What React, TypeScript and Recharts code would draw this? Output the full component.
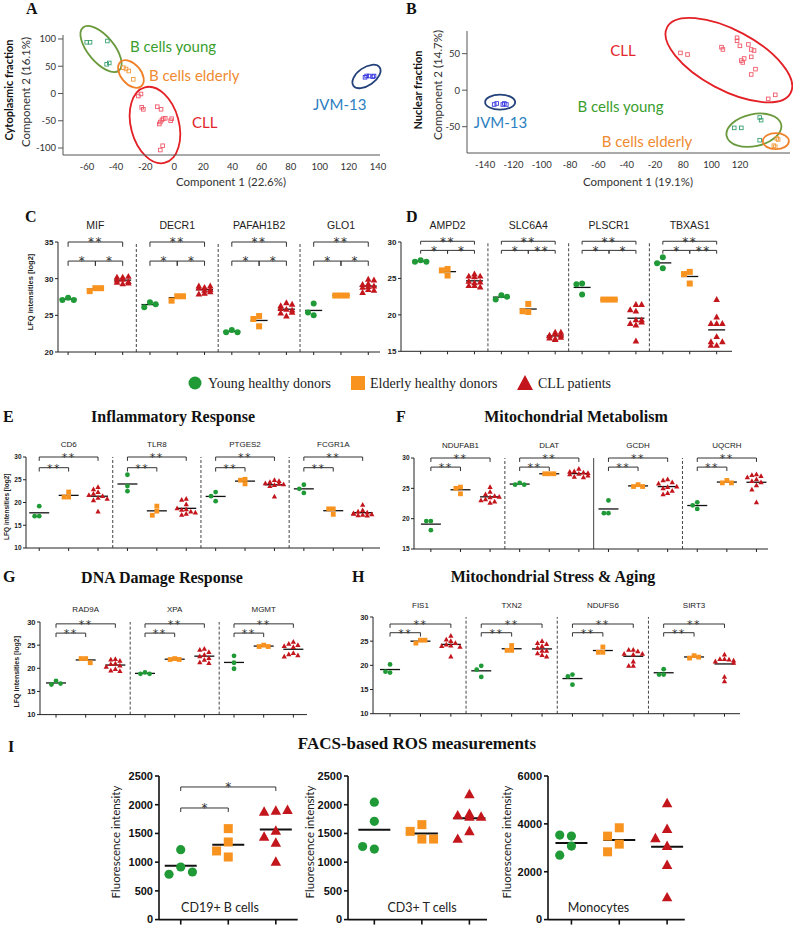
import React from 'react';
import { ScatterChart, Scatter, XAxis, YAxis, ReferenceLine, ReferenceArea, ReferenceDot } from 'recharts';

const ARIAL = '"Liberation Sans", Arial, sans-serif';
const SERIF = '"Liberation Serif", "Times New Roman", serif';
const CALI = 'Lato, "Open Sans", sans-serif';
const STAR = '"DejaVu Sans", sans-serif';

const GREEN = '#1f9a37';
const ORANGE = '#f7931e';
const RED = '#c3161c';

type Pt = [number, number];
type Br = [number, number, number, string];

// ---- A: cytoplasmic fraction PCA (component 1, component 2)
const aYoung: Pt[] = [[-60.2, 93.9], [-57.9, 93.9], [-46, 96.3], [-46.5, 53.6], [-44.7, 56]];
const aElderly: Pt[] = [[-35, 47.4], [-33.2, 45], [-31.3, 41.3], [-28.2, 26]];
const aCll: Pt[] = [
  [-24.7, -4.6], [-22.9, -0.9], [-22.4, -25.3], [-21.3, -29], [-11.7, -24.2], [-9.1, -29], [-10.3, -56],
  [-9.6, -52.3], [-8.5, -48.6], [-7.6, -46.2], [-6.2, -45.5], [-1.8, -46.2], [-2.5, -49.9], [-8, -95.8], [-9.6, -103.7],
];
const aJvm: Pt[] = [[131.1, 29.7], [132.2, 32.1], [134, 32.1], [136.4, 30.8], [137.3, 32.1]];
// ellipse bounds [x1, x2, y1, y2] before rotation
const aYoungEll = [-69.6, -31.1, 57.8, 105.5];
const aElderlyEll = [-40.8, -18.8, 17.4, 54.1];
const aCllEll = [-29.8, 3.2, -129.4, 13.8];
const aJvmEll = [121.1, 143.1, 14.7, 47.7];

// ---- B: nuclear fraction PCA (broken x axis)
const bTickLabels = ['-140', '-120', '-100', '-80', '-60', '-40', '-20', '80', '100', '120'];
const bYoung: Pt[] = [[116, -51.6], [121, -51.6], [134, -37.4], [135, -41], [134, -68.5]];
const bElderly: Pt[] = [[146, -66], [147, -67.5], [144, -76], [145, -77.5]];
const bCll: Pt[] = [
  [78, 51], [83, 48.8], [107, 58.9], [108, 55.7], [118, 71.7], [118, 67.6], [120, 60.7], [122, 37.9], [121, 40.5],
  [123, 43.4], [126, 62.6], [128, 55.7], [130, 54.3], [128, 45.6], [131, 28.8], [128, 21.5], [140, -11.9], [145, -6.4],
];
const bJvm: Pt[] = [[-133.6, -19.6], [-131.8, -18.2], [-127.5, -19.6], [-126.4, -18.2], [-125, -19.6]];
// ellipse bounds in axis positions
const bYoungEll = [8.51, 10.48, -76.7, -32.9];
const bElderlyEll = [9.81, 10.73, -80.8, -58.9];
const bCllEll = [6.14, 11.08, 0, 82.2];
const bJvmEll = [0, 1.06, -26.7, -6.2];

// ---- C
const cGenes = ['MIF', 'DECR1', 'PAFAH1B2', 'GLO1'];
const cYoung = [[27.4, 27.1, 27.1], [26.8, 26.1, 26.5], [23.0, 22.7, 22.7], [26.6, 25.0, 25.4]];
const cElderly = [[28.7, 28.3, 28.7], [27.6, 27.0, 27.6], [24.9, 24.5, 23.5], [27.7, 27.7, 27.7]];
const cCll = [
  [30.2, 29.8, 30.3, 29.6, 29.3, 29.5, 29.9, 30.2, 29.4],
  [28.8, 28.0, 29.0, 28.5, 27.9, 28.7, 28.2, 28.4, 29.0],
  [26.7, 25.8, 26.3, 25.3, 24.9, 25.7, 26.5, 25.4, 25.9],
  [29.9, 29.2, 29.8, 28.5, 28.1, 29.0, 28.8, 29.3, 28.4, 28.9],
];
const cBr: Br[] = [[0, 2, 35, '**'], [0, 1, 32.4, '*'], [1, 2, 32.4, '*']];

// ---- D
const dGenes = ['AMPD2', 'SLC6A4', 'PLSCR1', 'TBXAS1'];
const dYoung = [[27.5, 27.3, 27.3], [22.7, 22.1, 22.5], [24.3, 22.8, 24.2], [27.9, 26.4, 27.1]];
const dElderly = [[26.3, 25.4, 26.1], [21.5, 20.4, 20.5], [22.1, 22.1, 22.1], [25.9, 24.3, 25.6]];
const dCll = [
  [25.2, 24.4, 24.0, 25.3, 24.5, 23.8, 25.3, 24.6, 24.0, 25.6],
  [17.6, 17.2, 16.9, 16.6, 17.2, 16.8, 17.4, 16.7, 17.1, 17.6],
  [21.4, 20.7, 21.4, 20.5, 19.3, 18.8, 19.3, 18.6, 19.0, 16.4],
  [22.1, 19.7, 18.8, 18.8, 18.8, 17.0, 16.3, 16.3, 15.8, 15.8],
];
const dBrA: Br[] = [[0, 2, 30.1, '**'], [0, 1, 28.85, '*'], [1, 2, 28.85, '*']];
const dBrB: Br[] = [[0, 2, 30.1, '**'], [0, 1, 28.85, '*'], [1, 2, 28.85, '**']];

// ---- E
const eGenes = ['CD6', 'TLR8', 'PTGES2', 'FCGR1A'];
const eYoung = [[19.2, 17.0, 17.0], [26.1, 23.6, 22.5], [22.3, 21.4, 20.3], [23.9, 23.0, 22.1]];
const eElderly = [[22.3, 21.2, 21.2], [19.2, 18.1, 17.2], [25.1, 24.9, 24.1], [18.6, 18.6, 17.4]];
const eCll = [
  [23.4, 22.9, 22.3, 21.9, 21.4, 21.0, 20.5, 21.6, 20.8, 18.0],
  [20.8, 20.6, 19.6, 18.5, 18.4, 18.0, 17.5, 17.3, 18.7, 17.8],
  [24.9, 24.5, 24.7, 24.2, 24.0, 23.8, 24.1, 23.6, 21.3],
  [19.5, 18.3, 18.0, 17.8, 17.6, 17.4, 17.3, 17.2, 17.1, 17.5],
];
const eBr: Br[] = [[0, 2, 30, '**'], [0, 1, 27.65, '**']];

// ---- F
const fGenes = ['NDUFAB1', 'DLAT', 'GCDH', 'UQCRH'];
const fYoung = [[19.6, 19.6, 18.1], [25.9, 25.6, 25.6], [23.0, 20.9, 20.9], [22.7, 22.2, 21.6]];
const fElderly = [[25.2, 25.0, 24.1], [27.4, 27.4, 27.4], [25.6, 25.3, 25.3], [26.3, 25.9, 25.9]];
const fCll = [
  [25.2, 24.4, 24.0, 23.7, 23.5, 23.2, 23.0, 22.8, 23.6, 22.6],
  [28.2, 27.8, 27.6, 27.4, 27.3, 27.1, 26.9, 26.8, 27.5, 27.7],
  [26.5, 26.3, 26.0, 25.8, 25.2, 25.0, 24.6, 24.2, 24.0, 25.3],
  [27.3, 27.2, 27.0, 26.8, 26.5, 26.2, 26.0, 25.5, 24.8, 22.7],
];
const fBr: Br[] = [[0, 2, 30, '**'], [0, 1, 28.5, '**']];

// ---- G
const gGenes = ['RAD9A', 'XPA', 'MGMT'];
const gYoung = [[17.3, 16.5, 16.7], [19.1, 18.8, 18.8], [22.7, 21.2, 19.9]];
const gElderly = [[22.1, 22.1, 21.2], [22.1, 21.9, 21.9], [25.0, 24.7, 24.7]];
const gCll = [
  [22.0, 21.9, 21.6, 21.0, 20.9, 20.6, 20.3, 19.8, 19.5, 19.4],
  [24.2, 24.0, 23.5, 22.9, 22.6, 22.2, 21.8, 21.3, 21.1],
  [25.7, 25.3, 25.0, 24.8, 24.6, 23.3, 23.0, 22.8, 22.5],
];
const gBr: Br[] = [[0, 2, 29.6, '**'], [0, 1, 27.6, '**']];

// ---- H
const hGenes = ['FIS1', 'TXN2', 'NDUFS6', 'SIRT3'];
const hYoung = [[20.2, 18.5, 18.7], [19.9, 19.1, 17.6], [18.1, 17.7, 16.0], [19.2, 18.1, 18.1]];
const hElderly = [[25.2, 24.6, 25.2], [24.1, 23.1, 23.1], [23.8, 22.7, 22.7], [22.0, 21.5, 21.7]];
const hCll = [
  [26.1, 25.3, 25.0, 24.6, 24.3, 24.1, 24.0, 23.8, 21.8],
  [25.0, 24.6, 24.4, 24.0, 23.6, 23.0, 22.5, 22.1, 21.8, 23.0],
  [23.2, 23.2, 22.9, 22.4, 22.4, 22.2, 20.8, 19.9, 19.9],
  [22.2, 21.3, 21.3, 21.2, 20.8, 20.5, 21.0, 17.6, 16.7],
];
const hBr: Br[] = [[0, 2, 28.55, '**'], [0, 1, 26.75, '**']];

// ---- I: FACS ROS
const iYoung = [[1218, 916, 789, 829], [2044, 1711, 1227, 1273], [3488, 3530, 3070, 2693]];
const iElderly = [[1584, 1351, 1195, 1090], [1653, 1536, 1402, 1402], [3837, 3488, 3153, 2833]];
const iCll = [
  [1891, 1873, 1903, 1543, 1439, 1334, 1003],
  [2179, 1840, 1811, 1787, 1787, 1536, 1402],
  [4856, 3781, 3391, 3070, 2274, 921],
];
const iBr: Br[] = [[0, 1, 1943, '*'], [0, 2, 2309, '*']];

const brk = (x: number) => (x <= 0 ? (x + 140) / 20 : 7 + (x - 80) / 20);
const mean = (a: number[]) => a.reduce((s, v) => s + v, 0) / a.length;

// simple beeswarm, offsets limited to +-maxOff
function swarm(vals: number[], dy: number, step: number, maxOff: number): number[] {
  const placed: { o: number; v: number }[] = [];
  const cands: number[] = [0];
  for (let k = 1; k * step <= maxOff + 1e-9; k++) cands.push(-k * step, k * step);
  return vals.map((v) => {
    let best = 0;
    let bestScore = Infinity;
    for (const o of cands) {
      let score = 0;
      for (const q of placed) {
        const ox = Math.max(0, 1 - Math.abs(q.o - o) / step);
        const oy = Math.max(0, 1 - Math.abs(q.v - v) / dy);
        score += ox * oy;
      }
      if (score < bestScore - 1e-6) {
        bestScore = score;
        best = o;
      }
      if (score === 0) break;
    }
    placed.push({ o: best, v });
    return best;
  });
}

const circleMk = (r: number, c: string) => (p: any) => <circle cx={p.cx} cy={p.cy} r={r} fill={c} />;
const squareMk = (s: number, c: string) => (p: any) => (
  <rect x={p.cx - s / 2} y={p.cy - s / 2} width={s} height={s} fill={c} />
);
const triMk = (s: number, c: string) => (p: any) => {
  const h = s * 0.9;
  return (
    <polygon
      points={`${p.cx},${p.cy - h * 0.6} ${p.cx - s / 2},${p.cy + h * 0.4} ${p.cx + s / 2},${p.cy + h * 0.4}`}
      fill={c}
    />
  );
};
const hollowSq = (c: string) => (p: any) => (
  <rect x={p.cx - 1.8} y={p.cy - 1.8} width={3.6} height={3.6} fill="none" stroke={c} strokeWidth={0.9} />
);
const ellipseShape = (c: string, rot: number) => (p: any) => {
  const cx = p.x + p.width / 2;
  const cy = p.y + p.height / 2;
  return (
    <ellipse
      cx={cx}
      cy={cy}
      rx={Math.abs(p.width) / 2}
      ry={Math.abs(p.height) / 2}
      transform={`rotate(${rot} ${cx} ${cy})`}
      fill="none"
      stroke={c}
      strokeWidth={1.8}
    />
  );
};
const starText = (s: string, size: number) => (p: any) => (
  <text x={p.cx} y={p.cy + size * 0.36} textAnchor="middle" fontSize={size} fontFamily={STAR} fill="#333" letterSpacing={s.length > 1 ? 1.5 : 0}>
    {s}
  </text>
);
const geneText = (s: string, size: number, dy: number) => (p: any) => (
  <text x={p.cx} y={p.cy + dy} textAnchor="middle" fontSize={size} fontFamily={ARIAL} fill="#222">
    {s}
  </text>
);

interface PcaSet { pts: Pt[]; box: number[]; rot: number; dot: string; ring: string }
interface PcaProps {
  sets: PcaSet[]; l: number; t: number; r: number; b: number;
  xDomain: [number, number]; yDomain: [number, number]; xTicks: number[]; yTicks: number[];
  xMap?: (x: number) => number; xFmt?: (v: number) => string; padRight?: number;
}

function PcaPanel(p: PcaProps) {
  const yW = 34;
  const xH = 24;
  const pad = { top: 16, right: p.padRight ?? 3, bottom: 0, left: 0 };
  const tick = { fontSize: 9.5, fontFamily: CALI, fill: '#333' };
  return (
    <div style={{ position: 'absolute', left: p.l - yW, top: p.t - pad.top }}>
      <ScatterChart width={p.r - p.l + yW + pad.right} height={p.b - p.t + pad.top + xH} margin={pad}>
        <XAxis type="number" dataKey="x" domain={p.xDomain} allowDataOverflow ticks={p.xTicks} interval={0}
          tickFormatter={p.xFmt} tickLine={false} tickSize={6} tickMargin={2} height={xH}
          axisLine={{ stroke: '#555' }} tick={tick} />
        <YAxis type="number" dataKey="y" domain={p.yDomain} allowDataOverflow ticks={p.yTicks} interval={0}
          width={yW} tickSize={5} tickMargin={2} axisLine={{ stroke: '#555' }} tickLine={{ stroke: '#555' }} tick={tick} />
        {p.sets.map((s, i) => (
          <ReferenceArea key={'e' + i} x1={s.box[0]} x2={s.box[1]} y1={s.box[2]} y2={s.box[3]}
            ifOverflow="visible" shape={ellipseShape(s.ring, s.rot)} />
        ))}
        {p.sets.map((s, i) => (
          <Scatter key={'s' + i} data={s.pts.map(([x, y]) => ({ x: p.xMap ? p.xMap(x) : x, y }))}
            shape={hollowSq(s.dot)} isAnimationActive={false} />
        ))}
      </ScatterChart>
    </div>
  );
}

interface DotProps {
  genes: string[]; young: number[][]; elderly: number[][]; cll: number[][];
  l: number; t: number; r: number; b: number;
  xDomain: [number, number]; yDomain: [number, number]; yTicks: number[];
  brackets: Br[][]; drop: number; geneDy: number; geneFont: number; tickFont: number;
  starFont: number; mk: number; meanHalf: number; spread: number; solid?: number[];
}

function DotPanel(p: DotProps) {
  const yW = 30;
  const xH = 8;
  const pad = { top: 28, right: 4, bottom: 2, left: 0 };
  const pxX = (p.r - p.l) / (p.xDomain[1] - p.xDomain[0]);
  const pxY = (p.b - p.t) / (p.yDomain[1] - p.yDomain[0]);
  const step = (p.mk * 0.95) / pxX;
  const dy = (p.mk * 0.9) / pxY;
  const maxOff = p.spread / pxX;
  const half = p.meanHalf / pxX;
  const groups = [p.young, p.elderly, p.cll];
  const series = groups.map((g, k) =>
    g.flatMap((vals, gi) => {
      const off = swarm(vals, dy, step, maxOff);
      return vals.map((v, i) => ({ x: gi * 3 + k + off[i], y: v }));
    }),
  );
  const means = groups.flatMap((g, k) => g.map((vals, gi) => ({ x: gi * 3 + k, y: mean(vals) })));
  const xticks = p.genes.flatMap((_, gi) => [gi * 3, gi * 3 + 1, gi * 3 + 2]);
  const seps = p.genes.slice(1).map((_, i) => i);
  const ax = { stroke: '#222' };
  return (
    <div style={{ position: 'absolute', left: p.l - yW - pad.left, top: p.t - pad.top }}>
      <ScatterChart width={p.r - p.l + yW + pad.left + pad.right} height={p.b - p.t + pad.top + xH + pad.bottom} margin={pad}>
        <XAxis type="number" dataKey="x" domain={p.xDomain} allowDataOverflow ticks={xticks} interval={0}
          tickFormatter={() => ''} tickSize={3} height={xH} axisLine={ax} tickLine={ax} />
        <YAxis type="number" dataKey="y" domain={p.yDomain} allowDataOverflow ticks={p.yTicks} interval={0}
          width={yW} tickSize={3} tickMargin={1.5} axisLine={ax} tickLine={ax}
          tick={{ fontSize: p.tickFont, fontFamily: ARIAL, fontWeight: 700, fill: '#222' }} />
        {seps.map((i) => (
          <ReferenceLine key={'sep' + i} x={i * 3 + 2.5} stroke="#444" strokeWidth={1}
            strokeDasharray={p.solid && p.solid.includes(i) ? undefined : '3 2'} ifOverflow="visible" />
        ))}
        {p.genes.map((g, gi) => (
          <ReferenceDot key={'g' + gi} x={gi * 3 + 1} y={p.yDomain[1]} r={0} ifOverflow="visible"
            shape={geneText(g, p.geneFont, p.geneDy)} />
        ))}
        {p.genes.flatMap((_, gi) =>
          p.brackets[gi].flatMap(([a, c, lev, s], j) => {
            const x1 = gi * 3 + a;
            const x2 = gi * 3 + c;
            return [
              <ReferenceLine key={`bh${gi}-${j}`} segment={[{ x: x1, y: lev }, { x: x2, y: lev }]} stroke="#333" strokeWidth={1} ifOverflow="visible" />,
              <ReferenceLine key={`bl${gi}-${j}`} segment={[{ x: x1, y: lev }, { x: x1, y: lev - p.drop }]} stroke="#333" strokeWidth={1} ifOverflow="visible" />,
              <ReferenceLine key={`br${gi}-${j}`} segment={[{ x: x2, y: lev }, { x: x2, y: lev - p.drop }]} stroke="#333" strokeWidth={1} ifOverflow="visible" />,
              <ReferenceDot key={`bs${gi}-${j}`} x={(x1 + x2) / 2} y={lev} r={0} ifOverflow="visible" shape={starText(s, p.starFont)} />,
            ];
          }),
        )}
        <Scatter data={series[0]} shape={circleMk(p.mk / 2, GREEN)} isAnimationActive={false} />
        <Scatter data={series[1]} shape={squareMk(p.mk, ORANGE)} isAnimationActive={false} />
        <Scatter data={series[2]} shape={triMk(p.mk * 1.1, RED)} isAnimationActive={false} />
        {means.map((m, i) => (
          <ReferenceLine key={'m' + i} segment={[{ x: m.x - half, y: m.y }, { x: m.x + half, y: m.y }]} stroke="#111" strokeWidth={1.3} ifOverflow="visible" />
        ))}
      </ScatterChart>
    </div>
  );
}

interface FacsProps {
  idx: number; l: number; t: number; r: number; b: number;
  xDomain: [number, number]; yDomain: [number, number]; yTicks: number[]; brackets: Br[];
}

function FacsPanel(p: FacsProps) {
  const yW = 40;
  const xH = 8;
  const pad = { top: 12, right: 4, bottom: 0, left: 0 };
  const pxX = (p.r - p.l) / (p.xDomain[1] - p.xDomain[0]);
  const pxY = (p.b - p.t) / (p.yDomain[1] - p.yDomain[0]);
  const mk = 9;
  const step = (mk * 1.3) / pxX;
  const dy = (mk * 1.1) / pxY;
  const half = 16 / pxX;
  const groups = [iYoung[p.idx], iElderly[p.idx], iCll[p.idx]];
  const series = groups.map((vals, k) => {
    const off = swarm(vals, dy, step, 16 / pxX);
    return vals.map((v, i) => ({ x: k + off[i], y: v }));
  });
  const ax = { stroke: '#111', strokeWidth: 1.6 };
  const drop = 4 / pxY;
  return (
    <div style={{ position: 'absolute', left: p.l - yW, top: p.t - pad.top }}>
      <ScatterChart width={p.r - p.l + yW + pad.right} height={p.b - p.t + pad.top + xH} margin={pad}>
        <XAxis type="number" dataKey="x" domain={p.xDomain} allowDataOverflow ticks={[0, 1, 2]} interval={0}
          tickFormatter={() => ''} tickSize={5} height={xH} axisLine={ax} tickLine={ax} />
        <YAxis type="number" dataKey="y" domain={p.yDomain} allowDataOverflow ticks={p.yTicks} interval={0}
          width={yW} tickSize={4} tickMargin={2} axisLine={ax} tickLine={ax}
          tick={{ fontSize: 11, fontFamily: ARIAL, fontWeight: 700, fill: '#111' }} />
        {p.brackets.flatMap(([a, c, lev, s], j) => [
          <ReferenceLine key={'h' + j} segment={[{ x: a, y: lev }, { x: c, y: lev }]} stroke="#333" ifOverflow="visible" />,
          <ReferenceLine key={'l' + j} segment={[{ x: a, y: lev }, { x: a, y: lev - drop }]} stroke="#333" ifOverflow="visible" />,
          <ReferenceLine key={'r' + j} segment={[{ x: c, y: lev }, { x: c, y: lev - drop }]} stroke="#333" ifOverflow="visible" />,
          <ReferenceDot key={'s' + j} x={(a + c) / 2} y={lev} r={0} ifOverflow="visible" shape={starText(s, 12)} />,
        ])}
        <Scatter data={series[0]} shape={circleMk(4.6, GREEN)} isAnimationActive={false} />
        <Scatter data={series[1]} shape={squareMk(9, ORANGE)} isAnimationActive={false} />
        <Scatter data={series[2]} shape={triMk(10.5, RED)} isAnimationActive={false} />
        {groups.map((vals, k) => (
          <ReferenceLine key={'m' + k} segment={[{ x: k - half, y: mean(vals) }, { x: k + half, y: mean(vals) }]} stroke="#111" strokeWidth={2} ifOverflow="visible" />
        ))}
      </ScatterChart>
    </div>
  );
}

const vText = (s: string, x: number, y: number, size: number, font: string, weight = 400, fill = '#333') => (
  <text key={s + x} transform={`translate(${x},${y}) rotate(-90)`} textAnchor="middle" dominantBaseline="central"
    fontSize={size} fontFamily={font} fontWeight={weight} fill={fill}>
    {s}
  </text>
);

export default function App() {
  const LG = '#3a9e2e';
  const LO = '#f08a30';
  const LR = '#e3242b';
  const LB = '#2d7fc1';
  const letters: [string, number, number][] = [
    ['A', 26, 14], ['B', 406, 14], ['C', 25, 222], ['D', 406, 222], ['E', 3, 422],
    ['F', 396, 422], ['G', 3, 582], ['H', 352, 582], ['I', 8, 752],
  ];
  const titles: [string, number, number][] = [
    ['Inflammatory Response', 173, 422], ['Mitochondrial Metabolism', 576, 422],
    ['DNA Damage Response', 162, 583], ['Mitochondrial Stress & Aging', 553, 582],
  ];
  return (
    <div style={{ position: 'absolute', left: 0, top: 0, width: 793, height: 925, background: '#fff', overflow: 'hidden' }}>
      <PcaPanel
        l={63} t={35} r={380} b={155} padRight={14}
        xDomain={[-76.5, 141.4]} yDomain={[-112.8, 107.3]}
        xTicks={[-60, -40, -20, 0, 20, 40, 60, 80, 100, 120, 140]} yTicks={[-100, -50, 0, 50, 100]}
        sets={[
          { pts: aYoung, box: aYoungEll, rot: 50, dot: '#3aa070', ring: '#6a9a3c' },
          { pts: aElderly, box: aElderlyEll, rot: 50, dot: '#f39a3a', ring: '#f0802a' },
          { pts: aCll, box: aCllEll, rot: -15, dot: '#f05a6a', ring: '#e32026' },
          { pts: aJvm, box: aJvmEll, rot: -35, dot: '#3a3ae0', ring: '#23417a' },
        ]}
      />
      <PcaPanel
        l={467} t={31} r={790} b={153}
        xDomain={[-0.64, 10.77]} yDomain={[-86, 81]}
        xTicks={bTickLabels.map((_, i) => i)} yTicks={[-50, 0, 50]}
        xMap={brk} xFmt={(v: number) => bTickLabels[v] ?? ''}
        sets={[
          { pts: bYoung, box: bYoungEll, rot: -12, dot: '#3aa070', ring: '#6a9a3c' },
          { pts: bElderly, box: bElderlyEll, rot: 0, dot: '#f39a3a', ring: '#f0802a' },
          { pts: bCll, box: bCllEll, rot: 28, dot: '#f05a6a', ring: '#e32026' },
          { pts: bJvm, box: bJvmEll, rot: 0, dot: '#3a3ae0', ring: '#23417a' },
        ]}
      />
      <DotPanel genes={cGenes} young={cYoung} elderly={cElderly} cll={cCll}
        l={58} t={242} r={380} b={352} xDomain={[-0.37, 11.43]} yDomain={[20, 35]} yTicks={[20, 25, 30, 35]}
        brackets={cGenes.map(() => cBr)} drop={0.65} geneDy={-13} geneFont={10.5} tickFont={8} starFont={12}
        mk={6} meanHalf={8.5} spread={9} />
      <DotPanel genes={dGenes} young={dYoung} elderly={dElderly} cll={dCll}
        l={401} t={241.7} r={732} b={351} xDomain={[-0.73, 11.57]} yDomain={[15, 30]} yTicks={[15, 20, 25, 30]}
        brackets={[dBrA, dBrB, dBrA, dBrB]} drop={0.45} geneDy={-12.5} geneFont={10.5} tickFont={8} starFont={12}
        mk={6} meanHalf={8.5} spread={9} />
      <DotPanel genes={eGenes} young={eYoung} elderly={eElderly} cll={eCll}
        l={26} t={456.7} r={380} b={547.7} xDomain={[-0.45, 11.59]} yDomain={[10, 30]} yTicks={[10, 15, 20, 25, 30]}
        brackets={eGenes.map(() => eBr)} drop={0.85} geneDy={-10} geneFont={8} tickFont={6.5} starFont={11}
        mk={4.8} meanHalf={10} spread={10} />
      <DotPanel genes={fGenes} young={fYoung} elderly={fElderly} cll={fCll}
        l={414} t={458.3} r={768} b={549.3} xDomain={[-0.57, 11.39]} yDomain={[15, 30]} yTicks={[15, 20, 25, 30]}
        brackets={fGenes.map(() => fBr)} drop={0.65} geneDy={-10} geneFont={8} tickFont={6.5} starFont={11}
        mk={4.8} meanHalf={10} spread={10} solid={[1]} />
      <DotPanel genes={gGenes} young={gYoung} elderly={gElderly} cll={gCll}
        l={40} t={621.7} r={307} b={714.3} xDomain={[-0.54, 8.46]} yDomain={[10, 30]} yTicks={[10, 15, 20, 25, 30]}
        brackets={gGenes.map(() => gBr)} drop={0.85} geneDy={-10} geneFont={8} tickFont={7.5} starFont={11}
        mk={4.8} meanHalf={10} spread={10} />
      <DotPanel genes={hGenes} young={hYoung} elderly={hElderly} cll={hCll}
        l={373} t={617.3} r={740} b={714} xDomain={[-0.56, 11.51]} yDomain={[10, 30]} yTicks={[10, 15, 20, 25, 30]}
        brackets={hGenes.map(() => hBr)} drop={0.8} geneDy={-9} geneFont={8} tickFont={7.5} starFont={11}
        mk={4.8} meanHalf={10} spread={10} />
      <FacsPanel idx={0} l={159.3} t={775.7} r={298} b={919.3} xDomain={[-0.457, 2.46]} yDomain={[0, 2500]}
        yTicks={[0, 500, 1000, 1500, 2000, 2500]} brackets={iBr} />
      <FacsPanel idx={1} l={348} t={775.7} r={487} b={919.3} xDomain={[-0.554, 2.37]} yDomain={[0, 2500]}
        yTicks={[0, 500, 1000, 1500, 2000, 2500]} brackets={[]} />
      <FacsPanel idx={2} l={547.5} t={775.7} r={684.3} b={919.3} xDomain={[-0.49, 2.37]} yDomain={[0, 6000]}
        yTicks={[0, 2000, 4000, 6000]} brackets={[]} />

      <svg width={793} height={925} style={{ position: 'absolute', left: 0, top: 0, pointerEvents: 'none' }}>
        {letters.map(([s, x, y]) => (
          <text key={s} x={x} y={y} fontSize={16} fontWeight={700} fontFamily={SERIF} fill="#111">{s}</text>
        ))}
        {titles.map(([s, x, y]) => (
          <text key={s} x={x} y={y} textAnchor="middle" fontSize={16} fontWeight={700} fontFamily={SERIF} fill="#111">{s}</text>
        ))}
        <text x={417} y={749} textAnchor="middle" fontSize={17} fontWeight={700} fontFamily={SERIF} fill="#111">FACS-based ROS measurements</text>

        <g fontFamily={CALI} fontSize={15}>
          <text x={130} y={52} fill={LG}>B cells young</text>
          <text x={149} y={81} fill={LO}>B cells elderly</text>
          <text x={192} y={128} fill={LR}>CLL</text>
          <text x={313} y={110} fill={LB}>JVM-13</text>
          <text x={623} y={56} textAnchor="middle" fill={LR}>CLL</text>
          <text x={620.5} y={111.7} textAnchor="middle" fill={LG}>B cells young</text>
          <text x={647} y={146.7} textAnchor="middle" fill={LO}>B cells elderly</text>
          <text x={500.5} y={128.3} textAnchor="middle" fill={LB}>JVM-13</text>
        </g>
        <text x={231} y={186} textAnchor="middle" fontSize={11.5} fontFamily={CALI} fill="#333">Component 1 (22.6%)</text>
        <text x={638} y={186} textAnchor="middle" fontSize={11.5} fontFamily={CALI} fill="#333">Component 1 (19.1%)</text>
        {vText('Component 2 (16.1%)', 25, 92, 11.5, CALI)}
        {vText('Cytoplasmic fraction', 8, 90, 11, CALI, 700, '#111')}
        {vText('Component 2 (14.7%)', 437, 85, 11.5, CALI)}
        {vText('Nuclear fraction', 417, 90, 11, CALI, 700, '#111')}

        {vText('LFQ intensities [log2]', 30, 292, 7.5, ARIAL, 700, '#222')}
        {vText('LFQ intensities [log2] ', 6.3, 506.7, 6.5, ARIAL, 700, '#222')}
        {vText('LFQ intensities [log2]  ', 16.7, 671.7, 7, ARIAL, 700, '#222')}

        <circle cx={195} cy={383} r={6.5} fill={GREEN} />
        <text x={208} y={388} fontSize={14} fontFamily={SERIF} fill="#222">Young healthy donors</text>
        <rect x={351} y={376} width={14} height={14} fill={ORANGE} />
        <text x={370} y={388} fontSize={14} fontFamily={SERIF} fill="#222">Elderly healthy donors</text>
        <polygon points="525,375 517,390 533,390" fill={RED} />
        <text x={538} y={388} fontSize={14} fontFamily={SERIF} fill="#222">CLL patients</text>

        {vText('Fluorescence intensity', 115, 842, 11.5, CALI, 400, '#222')}
        {vText('Fluorescence intensity ', 309, 842, 11.5, CALI, 400, '#222')}
        {vText('Fluorescence intensity  ', 506, 842, 11.5, CALI, 400, '#222')}
        <g fontFamily={CALI} fontSize={12.5} fill="#222" textAnchor="middle">
          <text x={220} y={912}>CD19+ B cells</text>
          <text x={422} y={912}>CD3+ T cells</text>
          <text x={598.5} y={912}>Monocytes</text>
        </g>
      </svg>
    </div>
  );
}
